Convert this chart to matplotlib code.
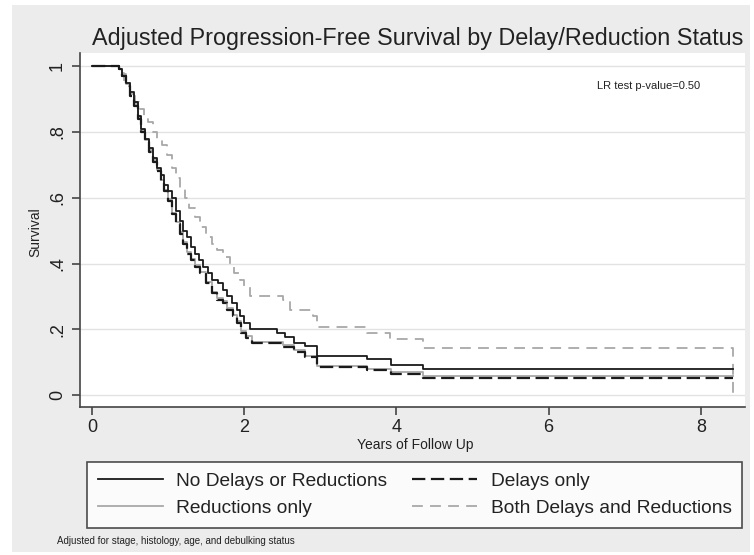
import matplotlib
matplotlib.use("Agg")
import matplotlib.pyplot as plt
from matplotlib.patches import Rectangle

plt.rcParams['font.family'] = ['Liberation Sans', 'DejaVu Sans']

# ---- data ----
end_time = 8.42

years_none = [0.0, 0.30, 0.35, 0.40, 0.45, 0.50, 0.55, 0.60, 0.65, 0.70, 0.75, 0.80, 0.85, 0.90,
              0.95, 1.00, 1.05, 1.10, 1.15, 1.20, 1.25, 1.30, 1.35, 1.40, 1.46, 1.52, 1.58,
              1.65, 1.72, 1.78, 1.84, 1.90, 1.95, 2.00, 2.08, 2.43, 2.54, 2.65, 2.80, 2.95,
              3.61, 3.93, 4.35]
surv_none = [1.0, 1.0, 0.99, 0.97, 0.95, 0.92, 0.89, 0.85, 0.81, 0.78, 0.75, 0.72, 0.69, 0.67,
             0.64, 0.62, 0.60, 0.56, 0.53, 0.50, 0.48, 0.45, 0.43, 0.41, 0.39, 0.37, 0.35,
             0.34, 0.32, 0.30, 0.28, 0.26, 0.24, 0.22, 0.20, 0.19, 0.176, 0.16, 0.15, 0.12,
             0.11, 0.091, 0.079]

years_delay = [0.0, 0.30, 0.35, 0.40, 0.45, 0.50, 0.55, 0.60, 0.65, 0.70, 0.75, 0.80, 0.85, 0.90,
               0.95, 1.00, 1.05, 1.10, 1.15, 1.20, 1.25, 1.30, 1.35, 1.42, 1.50, 1.57, 1.64,
               1.72, 1.78, 1.85, 1.90, 1.96, 2.02, 2.10, 2.51, 2.65, 2.80, 2.95, 3.61, 3.93, 4.35]
surv_delay = [1.0, 1.0, 0.99, 0.97, 0.94, 0.91, 0.88, 0.84, 0.80, 0.77, 0.74, 0.71, 0.68, 0.65,
              0.62, 0.59, 0.55, 0.52, 0.49, 0.46, 0.43, 0.41, 0.39, 0.37, 0.34, 0.31, 0.29,
              0.28, 0.26, 0.24, 0.22, 0.19, 0.175, 0.158, 0.146, 0.131, 0.115, 0.085, 0.076,
              0.064, 0.052]

years_reduc = [0.0, 0.30, 0.35, 0.40, 0.45, 0.50, 0.55, 0.60, 0.65, 0.70, 0.75, 0.80, 0.85, 0.90,
               0.95, 1.00, 1.05, 1.10, 1.15, 1.20, 1.25, 1.30, 1.35, 1.42, 1.50, 1.57, 1.64,
               1.72, 1.78, 1.85, 1.90, 1.96, 2.02, 2.10, 2.51, 2.65, 2.80, 2.95, 3.61, 3.93, 4.35]
surv_reduc = [1.0, 1.0, 0.99, 0.975, 0.945, 0.915, 0.885, 0.845, 0.805, 0.775, 0.745, 0.715,
              0.685, 0.655, 0.625, 0.595, 0.555, 0.525, 0.495, 0.465, 0.435, 0.415, 0.395,
              0.375, 0.345, 0.315, 0.295, 0.285, 0.265, 0.245, 0.225, 0.195, 0.18, 0.163,
              0.151, 0.136, 0.12, 0.09, 0.081, 0.069, 0.057]

years_both = [0.0, 0.30, 0.35, 0.42, 0.50, 0.56, 0.62, 0.68, 0.74, 0.80, 0.86, 0.92, 0.98, 1.05,
              1.10, 1.16, 1.22, 1.28, 1.35, 1.42, 1.50, 1.57, 1.64, 1.72, 1.81, 1.87, 1.94,
              2.00, 2.08, 2.51, 2.60, 2.90, 2.95, 3.61, 3.92, 4.35, 8.42]
surv_both = [1.0, 1.0, 0.98, 0.95, 0.92, 0.89, 0.87, 0.85, 0.83, 0.80, 0.78, 0.76, 0.73, 0.69,
             0.66, 0.63, 0.60, 0.57, 0.54, 0.51, 0.48, 0.46, 0.44, 0.42, 0.40, 0.37, 0.35,
             0.33, 0.30, 0.29, 0.26, 0.24, 0.207, 0.188, 0.17, 0.143, 0.0]

series_labels = ["No Delays or Reductions", "Reductions only", "Delays only",
                 "Both Delays and Reductions"]
x_ticks = [0, 2, 4, 6, 8]
y_ticks = [0, 0.2, 0.4, 0.6, 0.8, 1.0]
y_tick_labels = ["0", ".2", ".4", ".6", ".8", "1"]

# ---- figure ----
W, H = 754, 555
fig = plt.figure(figsize=(W / 100, H / 100), dpi=100, facecolor="white")
fig.patches.append(Rectangle((12 / W, 1 - 552 / H), (750 - 12) / W, (552 - 5) / H,
                             transform=fig.transFigure, facecolor="#ececec",
                             edgecolor="none", zorder=-10))

ax = fig.add_axes([80 / W, 1 - 407 / H, (745 - 80) / W, (407 - 53) / H])
ax.set_facecolor("white")
ax.set_xlim(-0.158, 8.58)
ax.set_ylim(-0.036, 1.04)

for y in y_ticks:
    ax.axhline(y, color="#e2e2e2", lw=1.0, zorder=0)


def ext(t, s):
    t = list(t)
    s = list(s)
    if t[-1] < end_time:
        t = t + [end_time]
        s = s + [s[-1]]
    return t, s


t, s = ext(years_reduc, surv_reduc)
l_reduc, = ax.step(t, s, where="post", color="#a8a8a8", lw=1.3, zorder=2)
t, s = ext(years_both, surv_both)
l_both, = ax.step(t, s, where="post", color="#a8a8a8", lw=1.3, dashes=(6, 4), zorder=2)
t, s = ext(years_none, surv_none)
l_none, = ax.step(t, s, where="post", color="#1a1a1a", lw=1.3, zorder=3)
t, s = ext(years_delay, surv_delay)
l_delay, = ax.step(t, s, where="post", color="#1a1a1a", lw=1.6, dashes=(6, 2.5), zorder=3)

for sp in ["top", "right"]:
    ax.spines[sp].set_visible(False)
for sp in ["left", "bottom"]:
    ax.spines[sp].set_color("#444444")
    ax.spines[sp].set_linewidth(1.2)

ax.set_xticks(x_ticks)
ax.set_xticklabels([str(v) for v in x_ticks], fontsize=13)
ax.set_yticks(y_ticks)
ax.set_yticklabels(y_tick_labels, fontsize=13, rotation=90, va="center")
ax.tick_params(axis="both", direction="out", length=6, width=1.2, color="#444444",
               labelcolor="#222222", pad=4)
ax.tick_params(axis="x", pad=2.5)

ax.set_xlabel("Years of Follow Up", fontsize=10, labelpad=0, color="#222222")
ax.xaxis.set_label_coords((415 - 80) / (745 - 80), -(438 - 407) / (407 - 53))
ax.set_ylabel("Survival", fontsize=10, color="#222222")
ax.yaxis.set_label_coords(-(80 - 42) / (745 - 80), (407 - 232) / (407 - 53))

fig.text(418 / W, 1 - 38 / H, "Adjusted Progression-Free Survival by Delay/Reduction Status",
         ha="center", va="center", fontsize=16.8, color="#222222")
ax.text(7.99, 0.94, "LR test p-value=0.50", ha="right", va="center", fontsize=8,
        color="#222222")
fig.text(57 / W, 1 - 541 / H, "Adjusted for stage, histology, age, and debulking status",
         ha="left", va="center", fontsize=7, color="#222222")

handles = [l_none, l_reduc, l_delay, l_both]
leg = fig.legend(handles, series_labels, ncol=2, loc="upper left",
                 bbox_to_anchor=(87 / W, 1 - 462 / H),
                 fontsize=13.8, frameon=True, fancybox=False,
                 handlelength=3.4, handletextpad=0.7, borderaxespad=0, labelspacing=0.5,
                 borderpad=0.55, columnspacing=1.3)
leg.get_frame().set_edgecolor("#222222")
leg.get_frame().set_linewidth(1.2)
leg.get_frame().set_facecolor("white")
for txt in leg.get_texts():
    txt.set_color("#222222")

fig.savefig("out.png", dpi=100, facecolor=fig.get_facecolor())
